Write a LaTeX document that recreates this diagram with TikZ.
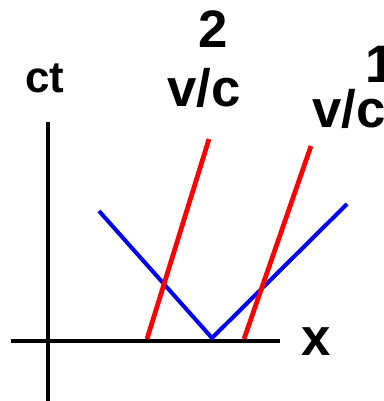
\documentclass[tikz,border=0pt]{standalone}
\usepackage{fontspec}
\setmainfont{Liberation Sans}
\usetikzlibrary{positioning}

\begin{document}
\begin{tikzpicture}[
  x=0.02cm, y=-0.02cm,
  axis/.style={draw=black, line width=2.7pt},
  lightray/.style={draw=blue, line width=2.3pt},
  worldline/.style={draw=red, line width=2.7pt},
  lbl/.style={font=\bfseries\fontsize{30}{36}\selectfont, inner sep=0pt, anchor=base}
]
\useasboundingbox (0,0) rectangle (383,401);

% Coordinates
\coordinate (tbot)   at (48,405);
\coordinate (ttop)   at (48,122);
\coordinate (xleft)  at (11,341);
\coordinate (xright) at (280,341);
\coordinate (lstart) at (99,211);
\coordinate (flash)  at (212,338);
\coordinate (lend)   at (347,204);
\coordinate (atwo)   at (147,339);
\coordinate (btwo)   at (209,139);
\coordinate (aone)   at (244,339);
\coordinate (bone)   at (311,146);

% Labels
\node[lbl, font=\bfseries\fontsize{25}{30}\selectfont] (ct) at (45,93) {ct};
\node[lbl] (xlbl)  at (316,355) {x};
\node[lbl] (vctwo) at (204,107) {v/c};
\node[lbl] (ntwo)  at (213,48)  {2};
\node[lbl] (vcone) at (349,128) {v/c};
\node[lbl] (none)  at (380,83)  {1};

% Edges
\draw[axis] (tbot) -- (ttop);
\draw[axis] (xleft) -- (xright);
\draw[lightray] (lstart) -- (flash) -- (lend);
\draw[worldline] (atwo) -- (btwo);
\draw[worldline] (aone) -- (bone);
\end{tikzpicture}
\end{document}
